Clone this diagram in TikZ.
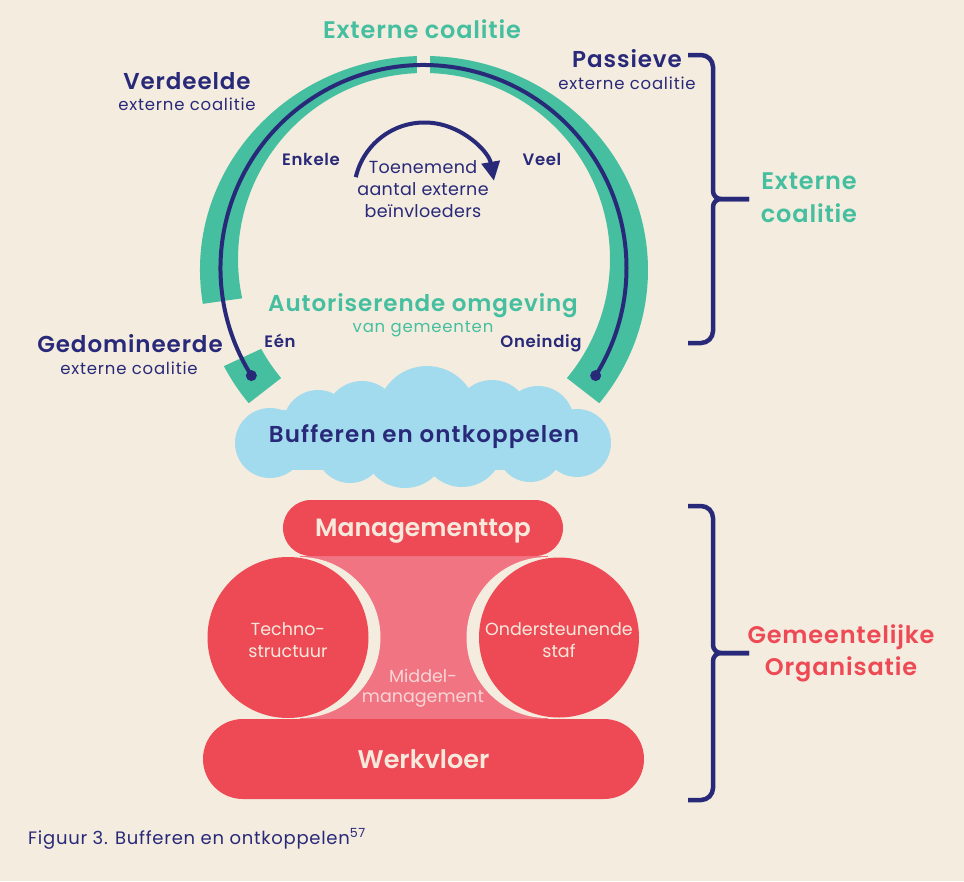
\documentclass[tikz,border=0pt]{standalone}
\usepackage{fontspec}
\setmainfont{Poppins}[BoldFont={Poppins SemiBold}]
\usetikzlibrary{arrows.meta,calc}
\definecolor{bgbeige}{HTML}{F4ECDF}
\definecolor{coalteal}{HTML}{45BF9F}
\definecolor{inknavy}{HTML}{292979}
\definecolor{orgred}{HTML}{EE4A56}
\definecolor{midpink}{HTML}{F17483}
\definecolor{cloudblue}{HTML}{A2DBEE}
\definecolor{paletxt}{HTML}{F6E9DC}
\definecolor{pinktxt}{HTML}{F8D6D6}
\newcommand\tsz[1]{\fontsize{#1}{#1}\selectfont}
\newcommand\trk[1]{\addfontfeatures{LetterSpace=#1}}
\begin{document}
\begin{tikzpicture}[x=1pt,y=1pt,yscale=-1,
  txt/.style={inner sep=0pt, anchor=base},
  bigb/.style={txt, font=\bfseries\tsz{24}\trk{3.5}},
  midb/.style={txt, font=\bfseries\tsz{23}\trk{4}},
  smallb/.style={txt, font=\bfseries\tsz{16.5}\trk{4}},
  reg/.style={txt, font=\tsz{16.5}\trk{5}},
  orgtxt/.style={txt, font=\tsz{17.5}},
  dot/.style={circle, fill=inknavy, inner sep=0pt, minimum size=11pt},
  pill/.style={fill=orgred, inner sep=0pt, text=paletxt, text depth=0pt},
  orgcircle/.style={circle, fill=orgred, inner sep=0pt, minimum size=161pt},
  gapcircle/.style={circle, fill=bgbeige, inner sep=0pt, minimum size=161pt},
  bracket/.style={draw=inknavy, line width=4.5pt},
]
\useasboundingbox (0,0) rectangle (964,881);
\fill[bgbeige] (0,0) rectangle (964,881);

% ---- crescent band of the external coalition ----
\coordinate (O) at (424,270);
\coordinate (I) at (424,259);
\coordinate (N) at (423.5,268);
\fill[coalteal] ($(O)+(170.9:224 and 214)$)
  arc[start angle=170.9, end angle=398.5, x radius=224, y radius=214]
  -- ($(I)+(399.8:186)$)
  arc[start angle=399.8, end angle=167.8, radius=186] -- cycle;
\fill[coalteal] ($(O)+(153.3:224 and 214)$)
  arc[start angle=153.3, end angle=141.5, x radius=224, y radius=214]
  -- ($(I)+(140.2:186)$)
  arc[start angle=140.2, end angle=151.1, radius=186] -- cycle;
\fill[bgbeige] (417,45) rectangle (430,85);

% ---- scale line from one to infinitely many ----
\node[dot] (dL) at ($(N)+(148:203)$) {};
\node[dot] (dR) at ($(N)+(32:203)$) {};
\draw[inknavy, line width=4pt] (dL.center) arc[start angle=148, end angle=392, radius=203];

% ---- increasing number of external influencers ----
\coordinate (A) at (424.5,193);
\draw[inknavy, line width=4pt, -{Triangle[length=19pt,width=18pt]}]
  ($(A)+(193:70.5)$) arc[start angle=193, end angle=350, radius=70.5];

% ---- labels around the band ----
\node[bigb, coalteal] (extTop) at (422,38) {Externe coalitie};
\node[midb, inknavy] (verd) at (187,89) {Verdeelde};
\node[reg, inknavy] (verdSub) at (187,110) {externe coalitie};
\node[midb, inknavy] (pass) at (627,67) {Passieve};
\node[reg, inknavy] (passSub) at (627,89) {externe coalitie};
\node[midb, inknavy] (gedo) at (130,352) {Gedomineerde};
\node[reg, inknavy] (gedoSub) at (129,374) {externe coalitie};
\node[smallb, inknavy] (enk) at (311,165) {Enkele};
\node[smallb, inknavy] (veel) at (542,165) {Veel};
\node[reg, inknavy, font=\tsz{17.5}\trk{2}] (toe1) at (423,173) {Toenemend};
\node[reg, inknavy, font=\tsz{17.5}\trk{2}] (toe2) at (423,195) {aantal externe};
\node[reg, inknavy, font=\tsz{17.5}\trk{2}] (toe3) at (423,217) {beïnvloeders};
\node[midb, coalteal] (auto) at (423,311) {Autoriserende omgeving};
\node[reg, coalteal] (autoSub) at (423,332) {van gemeenten};
\node[smallb, inknavy] (een) at (280,347) {Eén};
\node[smallb, inknavy] (oneind) at (541,347) {Oneindig};

% ---- buffer cloud ----
\begin{scope}[cloudblue]
  \fill (270,443) circle[radius=35];
  \fill (318,425) circle[radius=35];
  \fill (362,418) circle[radius=37];
  \fill (427,416) circle[radius=50];
  \fill (492,418) circle[radius=38];
  \fill (538,422) circle[radius=36];
  \fill (577,443) circle[radius=34];
  \fill (350,449) circle[radius=34];
  \fill (405,446) circle[radius=42];
  \fill (462,446) circle[radius=41];
  \fill (530,449) circle[radius=33];
  \fill (270,410) rectangle (577,470);
\end{scope}
\node[midb, inknavy, font=\bfseries\tsz{23}\trk{5}] (buf) at (424,442) {Bufferen en ontkoppelen};

% ---- municipal organisation ----
\fill[midpink] (300,556) rectangle (548,719);
\node[gapcircle] (gapL) at (300,637.5) {};
\node[gapcircle] (gapR) at (547,637.5) {};
\node[orgcircle] (tech) at (288,637.5) {};
\node[orgcircle, minimum size=160pt] (staf) at (559,637.5) {};
\node[pill, rounded corners=28pt, minimum width=280pt, minimum height=56pt,
  font=\bfseries\tsz{25}, text height=17.5pt] (mtop) at (423,528) {Managementtop};
\node[pill, rounded corners=40pt, minimum width=441pt, minimum height=80pt,
  font=\bfseries\tsz{25.5}, text height=18.5pt] (werk) at (423.5,759) {Werkvloer};
\node[orgtxt, paletxt] (tech1) at (288,635) {Techno-};
\node[orgtxt, paletxt] (tech2) at (288,657) {structuur};
\node[orgtxt, paletxt] (ond1) at (559,635) {Ondersteunende};
\node[orgtxt, paletxt] (ond2) at (559,657) {staf};
\node[orgtxt, pinktxt] (mid1) at (423,682) {Middel-};
\node[orgtxt, pinktxt] (mid2) at (423,702) {management};

% ---- brackets with their titles ----
\draw[bracket, rounded corners=12pt] (688,55) -- (713,55)
  [rounded corners=8pt] -- (713,199) -- (749,199);
\draw[bracket, rounded corners=12pt] (688,343) -- (713,343)
  [rounded corners=8pt] -- (713,199) -- (749,199);
\node[bigb, coalteal] (ext1) at (809,189) {Externe};
\node[bigb, coalteal] (ext2) at (809,222) {coalitie};

\draw[bracket, rounded corners=12pt] (688,506) -- (713,506)
  [rounded corners=8pt] -- (713,653) -- (749,653);
\draw[bracket, rounded corners=12pt] (688,800) -- (713,800)
  [rounded corners=8pt] -- (713,653) -- (749,653);
\node[bigb, orgred] (gem1) at (841,643) {Gemeentelijke};
\node[bigb, orgred] (gem2) at (841,675) {Organisatie};

% ---- caption ----
\node[reg, inknavy, font=\tsz{18}\trk{4}, anchor=base west] (caption) at (28,844)
  {Figuur 3. Bufferen en ontkoppelen\textsuperscript{57}};
\end{tikzpicture}
\end{document}
